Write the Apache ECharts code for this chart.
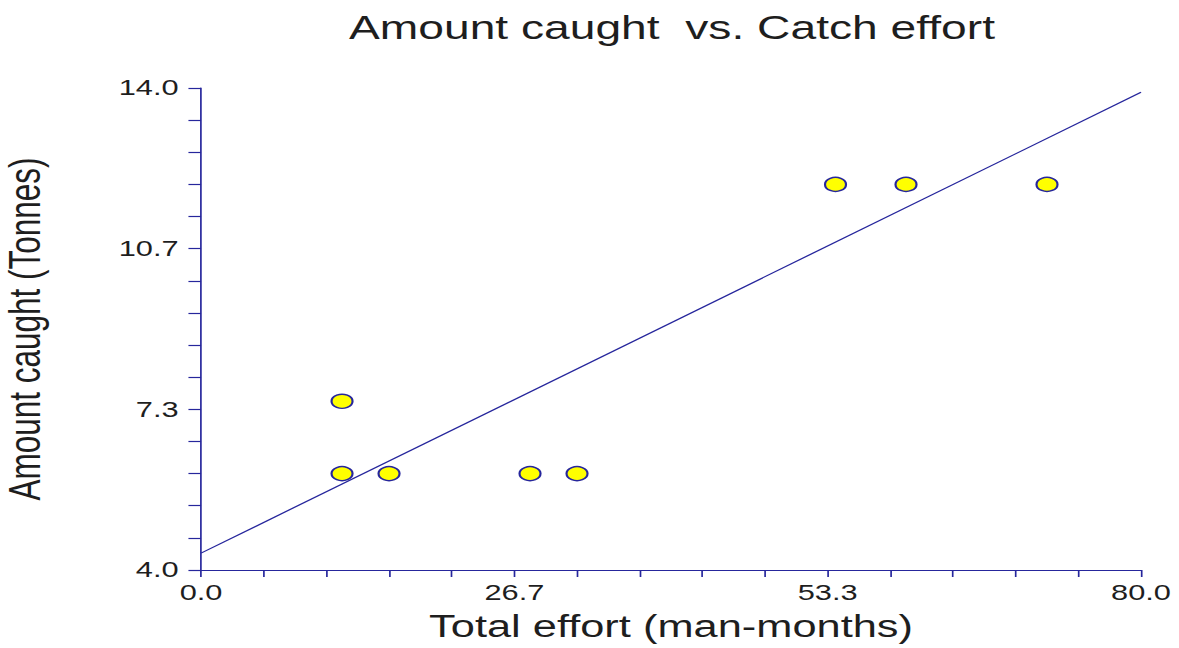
<!DOCTYPE html>
<html>
<head>
<meta charset="utf-8">
<script src="https://cdn.jsdelivr.net/npm/echarts@6/dist/echarts.min.js"></script>
<style>
  html, body { margin: 0; padding: 0; background: #ffffff; overflow: hidden; }
  #wrap { width: 1179px; height: 648px; overflow: hidden; }
  /* the plot is laid out narrow and widened horizontally */
  #chart { width: 842px; height: 648px; transform: scaleX(1.4); transform-origin: 0 0; }
</style>
</head>
<body>
<div id="wrap"><div id="chart"></div></div>
<script>
// Observations: total effort (man-months) and amount caught (tonnes)
const effort = [12, 12, 16, 28, 32, 54, 60, 72];
const caught = [7.5, 6.0, 6.0, 6.0, 6.0, 12.0, 12.0, 12.0];

// Fitted straight line, given by its two end points
const fitEffort = [0, 80];
const fitCaught = [4.35, 13.91];

// Labelled tick values on each axis; each gap holds 5 tick steps
const xMajorTicks = [0, 80 / 3, 160 / 3, 80];
const yMajorTicks = [4, 4 + 10 / 3, 4 + 20 / 3, 14];
const stepsPerMajor = 5;

function allTicks(majors) {
  const out = [];
  for (let i = 0; i < majors.length - 1; i++) {
    const a = majors[i], b = majors[i + 1];
    for (let k = 0; k < stepsPerMajor; k++) out.push(a + (b - a) * k / stepsPerMajor);
  }
  out.push(majors[majors.length - 1]);
  return out;
}

const AXIS_BLUE = '#26269c';
const TEXT = '#1e1e1e';
const FONT = 'Liberation Sans, Arial, sans-serif';

const points = effort.map((x, i) => [x, caught[i]]);
const fitLine = fitEffort.map((x, i) => [x, fitCaught[i]]);

const chart = echarts.init(document.getElementById('chart'), null, { renderer: 'svg' });
chart.setOption({
  backgroundColor: '#ffffff',
  animation: false,
  title: {
    text: 'Amount caught  vs. Catch effort',
    left: 475,
    top: 6,
    textAlign: 'center',
    textStyle: { fontFamily: FONT, fontSize: 33, fontWeight: 'normal', color: TEXT }
  },
  grid: { left: 143.6, right: 27, top: 88, bottom: 78, outerBoundsMode: 'none', containLabel: false },
  xAxis: {
    type: 'value',
    min: xMajorTicks[0],
    max: xMajorTicks[xMajorTicks.length - 1],
    name: 'Total effort (man-months)',
    nameLocation: 'middle',
    nameGap: 41,
    nameTextStyle: { fontFamily: FONT, fontSize: 31, color: TEXT },
    axisLine: { show: true, lineStyle: { color: AXIS_BLUE, width: 1.2 } },
    axisTick: { show: true, length: 7, lineStyle: { color: AXIS_BLUE, width: 1.2 },
      customValues: allTicks(xMajorTicks) },
    axisLabel: { customValues: xMajorTicks, margin: 12, fontFamily: FONT, fontSize: 22, color: TEXT,
      formatter: v => v.toFixed(1) },
    splitLine: { show: false }
  },
  yAxis: {
    type: 'value',
    min: yMajorTicks[0],
    max: yMajorTicks[yMajorTicks.length - 1],
    name: 'Amount caught (Tonnes)',
    nameLocation: 'middle',
    nameGap: 110,
    nameTextStyle: { fontFamily: FONT, fontSize: 31.5, color: TEXT },
    axisLine: { show: true, lineStyle: { color: AXIS_BLUE, width: 1.2 } },
    axisTick: { show: true, length: 9, lineStyle: { color: AXIS_BLUE, width: 1.2 },
      customValues: allTicks(yMajorTicks) },
    axisLabel: { customValues: yMajorTicks, margin: 16, fontFamily: FONT, fontSize: 22, color: TEXT,
      formatter: v => v.toFixed(1) },
    splitLine: { show: false }
  },
  series: [
    {
      type: 'scatter',
      data: points,
      symbol: 'circle',
      symbolSize: [15, 14],
      itemStyle: { color: '#ffff00', borderColor: AXIS_BLUE, borderWidth: 1.5, opacity: 1 },
      z: 2
    },
    {
      type: 'line',
      data: fitLine,
      showSymbol: false,
      symbol: 'none',
      lineStyle: { color: AXIS_BLUE, width: 1.2 },
      z: 3
    }
  ]
});
</script>
</body>
</html>
